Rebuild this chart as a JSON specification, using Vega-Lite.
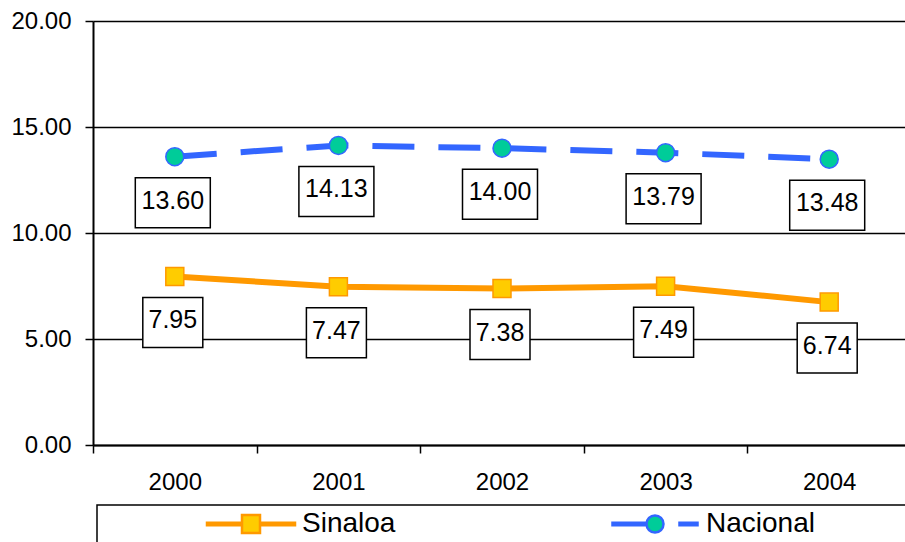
{
  "$schema": "https://vega.github.io/schema/vega-lite/v6.json",
  "width": 812,
  "height": 424,
  "autosize": {"type": "none"},
  "padding": {"left": 93, "top": 21, "right": 0, "bottom": 97},
  "background": "white",
  "config": {
    "font": "Liberation Sans",
    "view": {"stroke": null},
    "legend": {
      "orient": "none",
      "legendX": 4,
      "legendY": 484,
      "direction": "horizontal",
      "columns": 2,
      "padding": 5,
      "strokeColor": "black",
      "strokeWidth": 1.5,
      "fillColor": "white",
      "titleOrient": "left",
      "titleFontSize": 10,
      "titlePadding": 105,
      "labelFont": "Liberation Sans",
      "labelFontSize": 28,
      "labelColor": "black",
      "labelOffset": 37,
      "labelLimit": 600,
      "labelBaseline": "middle",
      "columnPadding": 211,
      "symbolSize": 400,
      "symbolOffset": 30,
      "symbolStrokeWidth": 2.5
    }
  },
  "data": {
    "values": [
      {"year": "2000", "series": "Sinaloa", "value": 7.95},
      {"year": "2001", "series": "Sinaloa", "value": 7.47},
      {"year": "2002", "series": "Sinaloa", "value": 7.38},
      {"year": "2003", "series": "Sinaloa", "value": 7.49},
      {"year": "2004", "series": "Sinaloa", "value": 6.74},
      {"year": "2000", "series": "Nacional", "value": 13.60},
      {"year": "2001", "series": "Nacional", "value": 14.13},
      {"year": "2002", "series": "Nacional", "value": 14.00},
      {"year": "2003", "series": "Nacional", "value": 13.79},
      {"year": "2004", "series": "Nacional", "value": 13.48}
    ]
  },
  "encoding": {
    "x": {
      "field": "year",
      "type": "ordinal",
      "scale": {"type": "band", "paddingInner": 0, "paddingOuter": 0, "range": [0, 818]},
      "axis": {
        "title": null,
        "tickBand": "extent",
        "labelAngle": 0,
        "labelFontSize": 24,
        "labelColor": "black",
        "labelPadding": 17,
        "tickSize": 8,
        "tickColor": "black",
        "tickWidth": 1.5,
        "domainColor": "black",
        "domainWidth": 2,
        "grid": false
      }
    },
    "y": {
      "field": "value",
      "type": "quantitative",
      "scale": {"domain": [0, 20], "nice": false},
      "axis": {
        "title": null,
        "values": [0, 5, 10, 15, 20],
        "format": ".2f",
        "labelFontSize": 24,
        "labelColor": "black",
        "labelPadding": 14,
        "tickSize": 8,
        "tickColor": "black",
        "tickWidth": 1.5,
        "domainColor": "black",
        "domainWidth": 2,
        "grid": true,
        "gridColor": "black",
        "gridWidth": 1.5,
        "gridOpacity": 1
      }
    }
  },
  "layer": [
    {
      "transform": [{"filter": "datum.series === 'Sinaloa'"}],
      "mark": {"type": "line", "stroke": "#FF9900", "strokeWidth": 6, "strokeCap": "butt"},
      "encoding": {}
    },
    {
      "transform": [{"filter": "datum.series === 'Nacional'"}],
      "mark": {"type": "line", "stroke": "#3366FF", "strokeWidth": 6, "strokeCap": "butt", "strokeDash": [42, 24]},
      "encoding": {}
    },
    {
      "transform": [{"filter": "datum.series === 'Sinaloa'"}],
      "mark": {"type": "point", "shape": "square", "filled": true, "size": 324, "fill": "#FFCC00", "stroke": "#FF9900", "strokeWidth": 1.5, "opacity": 1}
    },
    {
      "transform": [{"filter": "datum.series === 'Nacional'"}],
      "mark": {"type": "point", "shape": "circle", "filled": true, "size": 324, "fill": "#00CC99", "stroke": "#3366FF", "strokeWidth": 1.5, "opacity": 1}
    },
    {
      "transform": [{"filter": "datum.value > 100"}],
      "mark": {"type": "point", "filled": true, "strokeWidth": 2.5, "opacity": 1},
      "encoding": {
        "stroke": {
          "field": "series", "type": "nominal",
          "scale": {"domain": ["Sinaloa", "Nacional"], "range": ["#FF9900", "#3366FF"]},
          "legend": {"title": " "}
        },
        "fill": {
          "field": "series", "type": "nominal",
          "scale": {"domain": ["Sinaloa", "Nacional"], "range": ["#FFCC00", "#00CC99"]},
          "legend": {"title": " "}
        },
        "shape": {
          "field": "series", "type": "nominal",
          "scale": {"domain": ["Sinaloa", "Nacional"], "range": [
            "M-4.4,-0.125H-0.9V0.125H-4.4ZM0.9,-0.125H4.4V0.125H0.9ZM-0.9,-0.9H0.9V0.9H-0.9Z",
            "M-4.25,-0.125H-0.85V0.125H-4.25ZM2.45,-0.125H4.25V0.125H2.45ZM-0.85,0A0.85,0.85 0 1,0 0.85,0A0.85,0.85 0 1,0 -0.85,0ZM28,0Z"
          ]},
          "legend": {"title": " "}
        }
      }
    },
    {
      "transform": [{"filter": "datum.series === 'Nacional'"}],
      "mark": {"type": "point", "shape": "M-1.5,-1H1.5V1H-1.5Z", "size": 2500, "filled": true, "fill": "white", "stroke": "black", "strokeWidth": 1.5, "opacity": 1, "yOffset": 46, "xOffset": -2}
    },
    {
      "transform": [{"filter": "datum.series === 'Sinaloa'"}],
      "mark": {"type": "point", "shape": "M-1.2,-1H1.2V1H-1.2Z", "size": 2500, "filled": true, "fill": "white", "stroke": "black", "strokeWidth": 1.5, "opacity": 1, "yOffset": 46, "xOffset": -2}
    },
    {
      "mark": {"type": "text", "fontSize": 25, "font": "Liberation Sans", "color": "black", "baseline": "middle", "align": "center", "yOffset": 44, "xOffset": -2},
      "encoding": {
        "text": {"field": "value", "type": "quantitative", "format": ".2f"}
      }
    }
  ]
}
